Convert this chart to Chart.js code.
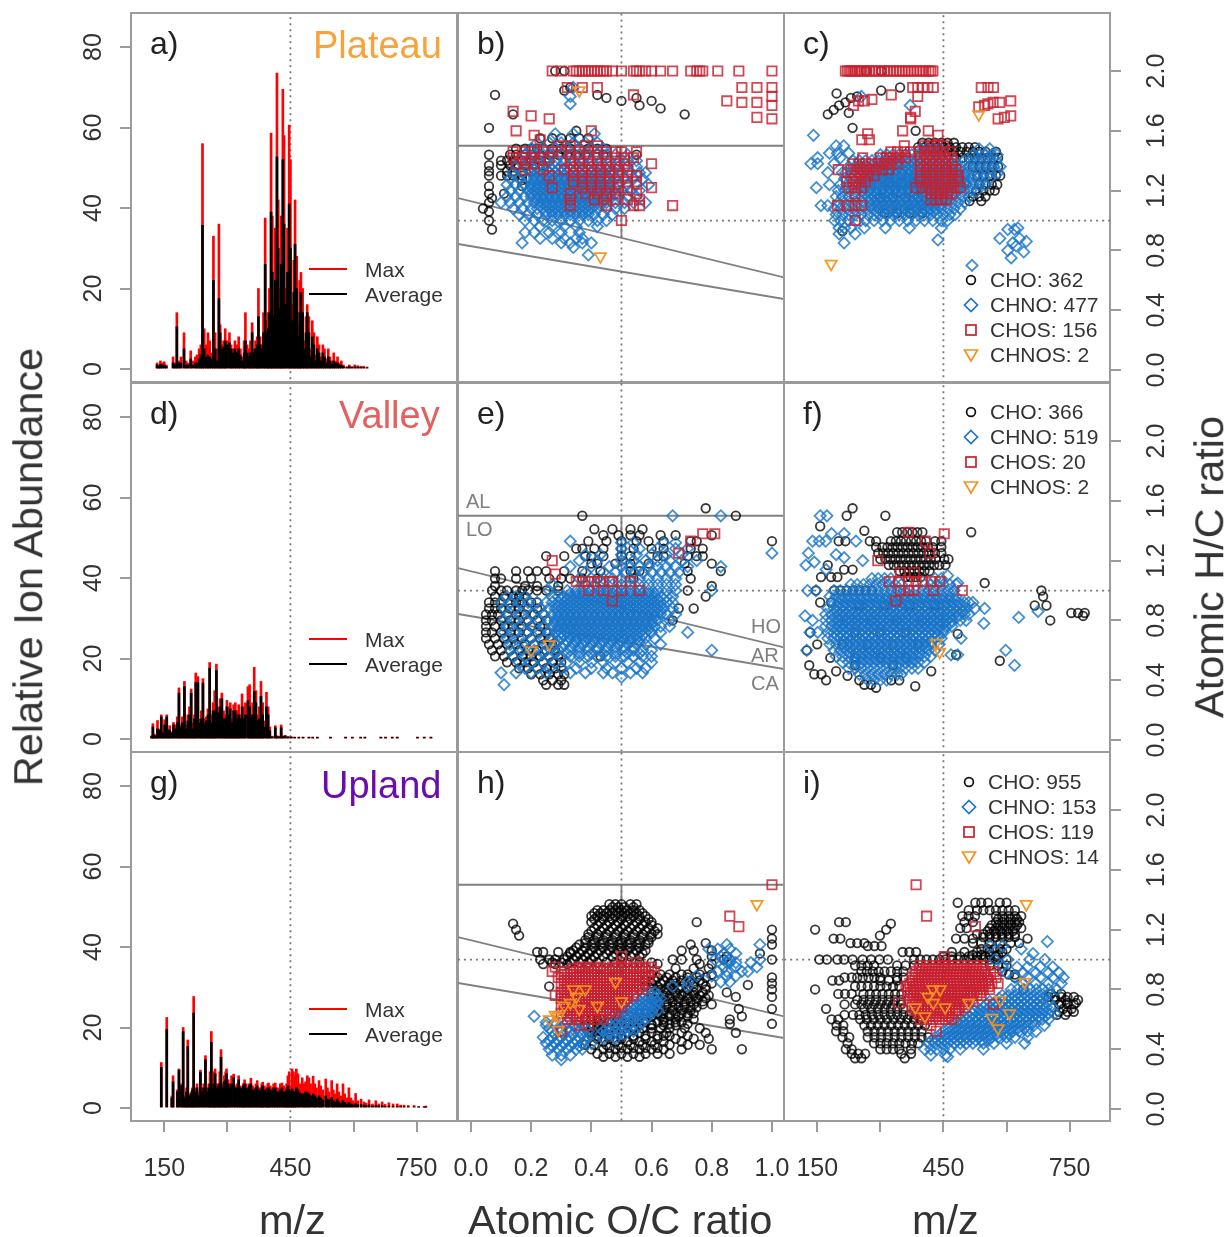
<!DOCTYPE html>
<html>
<head>
<meta charset="utf-8">
<title>Relative ion abundance and van Krevelen panels</title>
<script src="https://cdn.jsdelivr.net/npm/chart.js@4"></script>
<style>
  html, body { margin: 0; background: #fff; }
  #stage { position: relative; width: 1226px; height: 1237px; overflow: hidden; font-family: "Liberation Sans", Arial, sans-serif; color: #333; }
  #stage canvas { position: absolute; }
  .txt { position: absolute; white-space: nowrap; line-height: 1; }
  .tag { font-size: 32px; color: #222; }
  .site { font-size: 38px; text-align: right; }
  .title { font-size: 41.5px; }
  .leg { font-size: 21px; }
  .zone { font-size: 20px; color: #808080; }
  .swatch { position: absolute; width: 38px; height: 2px; }
  #stage svg { position: absolute; overflow: visible; }
</style>
</head>
<body>
<div id="stage"></div>
<script>
// ---------- Axis ticks ----------
const abundanceTicks = [0, 20, 40, 60, 80];
const mzTicks = [150, 300, 450, 600, 750];
const mzLabels = ["150", "", "450", "", "750"];
const ocTicks = [0, 0.2, 0.4, 0.6, 0.8, 1.0];
const hcTicks = [0, 0.4, 0.8, 1.2, 1.6, 2.0];

// ---------- Reference lines ----------
const mzGuide = [[450, -10], [450, 100]];
const ocGuide = [[0.5, -1], [0.5, 3]];
const ocSolid = [[0.5, 1.5], [0.5, 0.885]];
const hcGuide = [[-1, 1], [2, 1]];
const hcGuideMz = [[0, 1], [900, 1]];
const alLine = [[-1, 1.5], [2, 1.5]];
const hoLine = [[-0.043, 1.15], [1.04, 0.62]];
const arLine = [[-0.043, 0.843], [1.04, 0.475]];

// ---------- Mass spectra: [m/z, max, average] ----------
const plateauPeaks = [[133,1.5,1],[137,1,.7],[141,2,1.2],[145,1.5,1],[150,1.8,1],[155,1,.6],[171,3,1.5],[176,1.5,1],[180,14,10.5],[185,2,1.5],[190,3,1.5],[197,9,5],[202,2,1],[207,1.5,1],[213,4.5,2.5],[218,2,1],[224,3,1.5],[228,3.5,1.5],[233,5,2.5],[237,6,3.5],[241,56,35.7],[245,10,5],[250,6,3],[254,9,3.5],[258,7,3],[263,4,2.5],[267,33,22],[271,9,5],[275,5,2],[280,36,17.5],[283,11,9],[287,6,5],[291,7,5.5],[295,10,7],[299,7,6],[305,9,6.5],[309,6,5],[313,5,4],[318,7,5],[322,6,4],[327,8,5],[331,5,3.5],[336,3,2],[340,7,4],[343,14,7],[347,6,4],[352,5,3],[355,7,4],[359,11.5,9],[363,5,4],[367,7,5],[371,8,6],[374,20,13],[378,8,6],[382,6,5],[386,14,9],[390,37.5,26],[394,12,9],[397,14,10],[400,20,14],[404,58.6,39],[407,38,24],[411,17,13],[414,35,22],[418,73.5,52.7],[421,42,30],[425,20,15],[428,38,26],[432,69.5,52],[435,58,36],[439,20,16],[443,35,24],[447,60.6,41],[450,52,30],[454,16,12],[458,27,19],[461,42,31],[465,28,20],[469,11,8],[472,22,14],[475,24,19],[479,20,14],[483,7,5],[487,13,9],[490,16,14],[494,13,9],[498,5,3],[502,12,8],[506,9,6],[510,3.5,2],[514,8,5],[518,6,4],[522,3,2],[527,6,4],[531,5,3],[535,2.5,1.5],[540,5,3],[544,3,2],[548,2,1.2],[553,4,2],[557,2,1.5],[562,3,1.5],[566,1.5,1],[571,2,1],[576,1,.6],[584,.6,.4],[590,1,.6],[596,.6,.4],[603,1,.5],[610,.8,.5],[617,.7,.4],[624,.7,.4],[632,.5,.3]];
const valleyPeaks = [[120,.8,.6],[123,3.8,3],[126,1.2,1],[130,1,.7],[134,4.6,2.5],[138,2.5,2.2],[143,6,5.5],[147,1.8,1.5],[151,4.8,3.5],[156,6,5.5],[160,2.5,2],[163,3.3,2.2],[168,1.8,1.5],[172,4.1,3.5],[176,3.5,2.5],[181,5.5,4],[185,12.7,11.4],[189,3.5,2.8],[193,5.5,4],[198,14.3,13],[202,3.5,2.5],[206,6,4.5],[210,8,6],[214,12.4,11.4],[218,4,2.5],[222,6,5],[225,16.4,14],[230,15.5,14],[234,5,4],[238,7,5],[242,15,13.9],[246,5,4],[250,5.5,4.5],[254,7.5,6],[258,19,17.6],[262,6,4],[266,9,7],[270,12,7],[274,18.6,17],[278,8,6.5],[283,10,8],[287,11.4,10],[291,7,5],[295,6,5],[299,9.6,8],[303,8,6],[307,9,7.5],[311,5,4],[315,8.5,7],[319,9,7],[323,7,5],[327,8.5,6],[331,6,5],[335,11.2,8],[339,8,5],[343,9,6],[349,13,9.5],[353,13.5,8],[357,6,5],[360,9,6],[364,17.8,11.8],[368,12,9],[372,6,4.5],[376,8,5],[380,14.3,10.6],[384,9,6],[388,4.5,3],[393,11.6,8],[397,8,6],[401,3,2],[407,.7,.5],[414,3.3,2.8],[418,.8,.6],[423,.7,.5],[428,3.5,2.8],[432,.8,.6],[438,.9,.7],[445,.6,.5],[452,.5,.5],[460,.5,.4],[470,.5,.4],[480,.5,.4],[494,.5,.4],[503,.5,.4],[514,.5,.4],[545,.5,.4],[581,.5,.4],[597,.5,.4],[617,.5,.4],[627,.5,.4],[665,.5,.4],[676,.5,.4],[692,.5,.4],[704,.5,.4],[752,.5,.4],[768,.5,.4],[784,.5,.4]];
const uplandPeaks = [[143,11.3,10.1],[156,22.5,19.5],[168,3,2.5],[171,8,6.5],[181,4.5,4],[185,9.7,9.4],[191,6,5.5],[195,20,19],[199,3,2.5],[203,5,4],[206,16.9,15.3],[210,3.5,3],[214,4,3.5],[217,5,4.5],[220,27.7,23.6],[224,5,4],[228,6,5],[232,4,3],[236,9.4,8.8],[240,5,4],[244,6,5],[248,13,12],[252,5,4],[256,6,5],[259,9,6],[262,19,16.3],[266,6,5],[269,9,6],[271,9.7,8.5],[275,6,5],[279,6,5.5],[282,9,6],[285,14.5,12.6],[289,6,5],[293,8,6.5],[296,9,7],[298,9.7,8.5],[302,7,6],[306,6,5],[310,8,6],[315,8.4,7.5],[319,5.5,5],[323,6,5],[327,8,7],[331,5.5,5],[335,5,4.5],[338,6,5.5],[341,7,6],[345,6,5],[349,5,4.5],[352,6,5.5],[356,7.4,6],[360,5.5,4.5],[364,5,4.5],[368,6,5],[371,6.8,5.5],[375,5,4.5],[379,5,4],[382,6,5],[384,6.4,5.5],[388,5.5,4.5],[392,5,4],[396,6,5],[398,6.2,5],[402,5.5,4.5],[406,5,4],[410,6,5],[414,6.2,5],[418,5,4],[422,5,4],[426,6,4.5],[430,6.2,5],[434,5.5,4],[438,5,3.8],[441,6,4.5],[444,8,5.5],[447,9,4.5],[451,5.5,4],[454,9.7,4.7],[457,9,4],[460,8,4],[464,9.7,5],[468,8.5,4.5],[472,6,3.8],[478,7.5,3.5],[482,6,3.5],[486,6.5,4],[490,8,3.9],[494,7.5,3.5],[498,6,3],[504,7.9,3.5],[508,6,3],[512,5,2.5],[518,6.8,3],[522,5.5,2.5],[527,4.5,2],[534,7.2,3],[538,5,2.2],[542,4,2],[548,6.8,2.6],[552,4.5,1.8],[556,3.5,1.5],[561,6,2.2],[565,4,1.5],[570,3,1.2],[575,6,1.9],[579,3.5,1.4],[584,2.5,1],[589,5,1.4],[594,2.5,1],[599,1.8,.8],[605,3.6,1.1],[610,1.8,.8],[618,2.2,.9],[625,1.5,.7],[630,1.2,.6],[637,2,.8],[645,1,.5],[653,1.8,.7],[660,1,.5],[668,1.5,.6],[675,.9,.4],[684,1.3,.5],[694,1,.4],[704,1,.4],[712,.7,.3],[720,.7,.3],[730,.6,.3],[744,.6,.3],[755,.4,.2],[768,.4,.2],[772,.5,.2]];

// ---------- Panel b: rows of [H/C x100, O/C x100 ...] ----------
const bCho = [[200,28,31],[189,33],[187,31],[184,42,8],[182,45,55],[180,50,60],[177,56],[175,63],[171,71,14],[162,6],[160,35],[155,23,27,30,33,36,39],[148,15,18,20,22,24,27,30,33,36,39,42,45],[144,6,13,15,18,20,23,26,29,32,35,38,44,55],[140,10,12,14,17,20,23,26],[137,6,10,13,15,18,21,24],[133,6,12,14,17,20],[130,6,10,12,14,17],[127,17],[123,6,17],[118,6,11],[115,7],[112,6],[108,4],[106,6],[100,6],[94,7]];
const bChno = [[189,34],[183,33],[178,33],[158,28,34,41],[152,22,26,30,34,38,42],[148,20,24,28,32,36,40,44],[144,18,21,24,27,30,33,36,39,42,45,48,52],[140,16,19,22,25,28,31,34,37,40,43,46,49,52,55],[136,15,18,20,22,24,26,28,30,32,34,36,38,40,43,46,49,52,55],[132,14,17,20,22,24,26,28,30,32,34,36,38,40,42,44,47,50,53,56,58],[128,13,16,19,21,23,25,27,29,31,33,35,37,39,41,43,45,48,51,54,57],[124,12,15,18,20,22,24,26,28,30,32,34,36,38,40,42,44,46,49,52,55,59],[120,13,16,19,21,23,25,27,29,31,33,35,37,39,41,43,45,47,50,53,56],[116,12,15,18,20,22,24,26,28,30,32,34,36,38,40,42,44,46,49,52,55],[112,10,13,16,19,21,23,25,27,29,31,33,35,37,39,41,43,45,48,51,54,58],[108,14,17,20,22,24,26,28,30,32,34,36,38,40,42,45,48,51],[104,16,19,22,25,27,29,31,33,35,37,39,41,44,47],[100,18,21,24,27,30,33,36,39,42,45],[96,23,27,31,35,42],[92,18,21,26,30,36],[88,23,27,31,35,37],[85,17,30,33,37,40],[82,34],[77,39],
  [134,21,23,25,27,29,31,33,35,37,39,41,43,45,47],[130,21,23,25,27,29,31,33,35,37,39,41,43,45,47],[126,21,23,25,27,29,31,33,35,37,39,41,43,45,47],[122,20,22,24,26,28,30,32,34,36,38,40,42,44,46,48],[118,20,22,24,26,28,30,32,34,36,38,40,42,44,46,48],[114,22,24,26,28,30,32,34,36,38,40,42,44,46],[110,23,25,27,29,31,33,35,37,39,41,43],[106,25,27,29,31,33,35,37,39]];
const bChos = [[200,27,30,34,35,36,37,38,39,40,41,42,43,44,45,47,50,54,55,56,58,60,63,67,73,75,76,77,82,89,100],[189,32,37,42,90,95,100],[184,54],[183,100],[180,85],[179,90,95],[177,100],[173,14],[170,20],[169,95],[168,26,100],[160,15,40],[157,21],[154,23],[150,29,33,38,42],[146,14,18,21,24,27,30,33,36,39,42,45,48,50,55],[142,14,17,20,23,26,33,36,39,42,45,48,51,54],[138,15,18,21,33,36,39,42,45,48,51,60],[134,18,24,31,34,37,40,43,46,49,52],[130,26,34,37,40,43,46,49,52,55],[126,34,37,40,43,46,49,52,55],[122,27,37,40,43,46,49,52,60],[118,33,38,42,45,48,55],[114,33,41,44,48,52,56],[110,33,45,54,56,67],[100,50]];
const bChnos = [[187,36],[76,43]];

// ---------- Panel c: rows of [H/C x100, m/z ...] ----------
const cCho = [[200,266,302],[189,347],[187,302],[185,196],[183,245],[182,230],[179,217],[177,202],[174,189],[172,225],[171,175],[162,234],[160,384],[152,400,415,430,445,460,475],[149,390,405,420,435,450,465,480,495,510,525],[146,430,445,460,475,490,505,520,535,550,575],[142,480,495,510,525,540,555,570,580],[136,520,535,550,565,580],[130,530,545,560,575,585],[124,535,550,565,578],[120,528,545,560,572],[116,520,535,550],[113,512,540],[125,320,350,380,410,440,470,500],[115,300,330,360,390,420,450],[105,310,340,370,400],[93,210]];
const cChno = [[183,255],[177,371],[157,141],[150,195,213],[148,395,410,425,440,535,560],[145,179,198,225],[144,300,315,330,345,360,375,390,405,420,435,450,520,535,550,565,578],[142,151,205],[140,235,250,265,280,295,310,325,340,355,370,385,400,415,430,445,460,475,500,515,530,545,560,575],[138,135,151,190],[136,225,240,255,270,285,300,315,330,345,360,375,390,405,420,435,450,465,480,495,510,525,540,555,570,585],[132,175,210,218,232,247,262,277,292,307,322,337,352,367,382,397,412,427,442,457,472,487,502,517,532,547,562,580],[128,215,230,245,260,275,290,305,320,335,350,365,380,395,410,425,440,455,470,485,500,515,530,545,560],[124,179,205,220,235,250,265,280,295,310,325,340,355,370,385,400,415,430,445,460,475,490,505,520,535,550],[122,148],[120,200,215,230,245,260,275,290,305,320,335,350,365,380,395,410,425,440,455,470,485,500,515,530],[116,195,210,225,240,255,270,285,300,315,330,345,360,375,390,405,420,435,450,465,480,495,510],[112,200,215,230,245,260,275,290,305,320,335,350,365,380,395,410,425,440,455,470,485,500],[110,159,175],[108,190,205,220,235,250,265,280,295,310,325,340,355,370,385,400,415,430,445,460,475,490],[104,195,210,225,240,255,270,285,300,315,330,345,360,375,390,405,420,435,450,465,478],[100,191,205,225,245,265,285,305,325,345,365,385,405,425,445,460],[95,202,215,230,262,312,369,445,627],[94,619,603],[91,202,240],[88,584,631],[87,437],[86,647],[85,615,214],[83,623],[80,603],[79,641],[75,611],[70,518],
  [138,307,322,337,352,367,382,397,412,427,442,457,472],[134,292,307,322,337,352,367,382,397,412,427,442,457,472,487],[130,277,292,307,322,337,352,367,382,397,412,427,442,457,472,487,502],[126,262,277,292,307,322,337,352,367,382,397,412,427,442,457,472,487,502],[122,262,277,292,307,322,337,352,367,382,397,412,427,442,457,472,487],[118,262,277,292,307,322,337,352,367,382,397,412,427,442,457,472],[114,277,292,307,322,337,352,367,382,397,412,427,442,457],[110,277,292,307,322,337,352,367,382,397,412,427,442],[106,292,307,322,337,352,367,382,397,412,427]];
const cChos = [[200,217,222,227,231,235,240,245,250,255,262,268,275,282,289,296,303,310,317,324,331,338,345,352,359,366,373,380,387,394,401,408,415,420,425],[189,377,389,401,413,426,569,556,540],[184,326],[183,389],[181,280],[180,248,262,610],[179,584,568],[178,556],[177,236,548],[176,534],[173,383],[170,610],[169,372,595],[168,580,372],[160,353,414],[158,270],[157,437],[154,256,274],[150,357,405,420,435,450],[146,325,341,357,372,392,405,420,435,450,465],[142,258,300,315,330,345,360,395,410,425,440,455,470],[138,235,250,265,280,295,310,325,340,395,410,425,440,455,470],[134,200,230,245,260,275,290,305,320,395,410,425,440,455,470,480],[130,240,255,270,285,395,410,425,440,455,470,485],[126,220,235,250,265,395,410,425,440,455,470,485],[122,225,240,255,385,400,415,430,445,460,475,490],[118,240,420,432,445,460,470],[114,420,432,445,458],[110,198,225,240,255],[100,240]];
const cChnos = [[171,534],[71,183]];

// ---------- Panel e ----------
const eCho = [[155,78],[150,37,88],[141,41,47,53,57],[137,44,49,53,56,63,68,80],[133,39,45,50,55,59,64,73,75,100],[128,35,37,41,44,50,54,60,64,73,77],[123,25,31,38,40,44,50,53,62,64,72,75,77],[118,40,42,48,53,59,71,80],[113,8,15,19,22,25,31,37,43,53,56,72,83],[108,8,10,15,20,26,30,33,37,42,54,73],[103,8,18,22,29,80],[100,7,10,12,15,17,19,22,25,29,72],[96,8,11,14,16,18,78],[92,6,8,10,13,15,17,20,22],[88,6,8,10,13,16,19,22,69,74],[84,5,7,9,12,15,18,21,24],[80,5,7,10,13,16,19,22,25,67],[76,5,8,11,14,17,20,23],[72,5,7,10,13,16,19,22,25],[68,5,8,11,14,17,20,23,26],[64,6,9,12,15,18,21,24,27],[60,7,10,13,16,19,22,25,28],[56,8,11,14,17,20,23,26,29,43],[52,12,15,18,21,24,27,30],[48,16,19,22,25,28,30],[44,20,23,26,29,31],[40,24,27,30],[37,25,29,31]];
const eChno = [[150,67,83],[133,33],[132,50,54,64,68],[128,50,56,62,68,72],[125,100],[124,38,43,50,55,60,65,70],[120,36,42,50,54,58,62,66,70,75],[116,33,40,46,50,53,56,59,62,65,68,72,83],[112,38,44,48,51,54,57,60,63,66,69],[108,36,40,44,47,50,53,56,59,62,65,68],[104,27,38,41,44,47,50,53,56,59,62,65,68],[100,26,32,35,37,40,43,45,48,50,53,56,59,62,65,68,80],[96,12,15,18,27,29,31,33,35,37,39,41,43,45,47,49,51,53,55,57,59,61,63,65,67],[92,10,13,16,19,22,25,27,29,31,33,35,37,39,41,43,45,47,49,51,53,55,57,59,61,63,65,67],[88,11,15,19,23,26,28,30,32,34,36,38,40,42,44,46,48,50,52,54,56,58,60,62,64,67],[84,12,16,20,24,27,29,31,33,35,37,39,41,43,45,47,49,51,53,55,57,59,61,63,65,68],[80,11,15,19,23,26,28,30,32,34,36,38,40,42,44,46,48,50,52,54,56,58,60,62,66],[76,12,16,20,24,27,29,31,33,35,37,39,41,43,45,47,49,51,53,55,57,59,61,63,66],[72,11,15,19,23,26,28,30,32,34,36,38,40,42,44,46,48,50,52,54,56,58,60,63,72],[68,12,16,20,24,27,30,33,35,37,39,41,43,45,47,49,51,53,55,58,61],[64,13,17,21,25,28,31,34,37,40,43,46,49,52,55,58,63],[60,13,17,21,25,29,33,36,39,42,45,48,51,54,57,60,80],[56,14,18,22,26,30,33,36,39,42,45,48,51,54,57,60],[52,16,20,24,28,32,36,40,44,48,52,56,60],[48,18,22,26,30,35,40,45,50,55,58],[45,10,15,20,25,33,38,44,47,53,57],[42,50],[37,11],
  [98,33,35,37,39,41,43,45,47,49,51,53,55,57,59,61],[94,30,32,34,36,38,40,42,44,46,48,50,52,54,56,58,60,62],[90,29,31,33,35,37,39,41,43,45,47,49,51,53,55,57,59,61,63],[86,29,31,33,35,37,39,41,43,45,47,49,51,53,55,57,59,61,63],[82,29,31,33,35,37,39,41,43,45,47,49,51,53,55,57,59,61],[78,28,30,32,34,36,38,40,42,44,46,48,50,52,54,56,58,60],[74,29,31,33,35,37,39,41,43,45,47,49,51,53,55,57,59],[70,29,31,33,35,37,39,41,43,45,47,49,51,53,55,57],[66,29,32,35,38,41,44,47,50,53,56],[62,27,30,33,36,39,42,45,48,51,54],[58,24,28,32,36,40,44,48,52,56]];
const eChos = [[138,77,81],[133,73],[125,69],[120,27],[111,28],[106,35,37,39,41,43,46,47,53],[100,39,44,50,56],[93,47]];
const eChnos = [[64,26],[60,20]];

// ---------- Panel f ----------
const fCho = [[155,234],[150,220,312],[143,157],[140,262],[139,340,352,364,376,388,400,516],[133,201,217,275,290,325,337,349,361,373,385,397,409,430,445],[129,290,305,317,329,341,353,365,377,389,401,413,425,445],[125,295,307,319,331,343,355,367,379,391,403,415,430,445],[121,300,312,324,336,348,360,372,384,396,408,420,432,452,462],[117,175,320,332,344,356,368,380,392,404,416,428,440,455],[114,214,234],[113,345,357,369,381,393,405,417],[109,159,183,198,360,372,384,396],[105,548],[100,147,190,205,220,235,250,265,280,683],[96,687],[92,157,183],[90,695,667,250,310,370,430],[85,754,770,786],[83,782],[80,704,220,280,340,400],[72,133,240,300,360],[71,484],[64,150,210,270,330,390],[60,125],[57,480],[55,181,240,300,360],[53,584],[50,131,240,330],[46,195,421],[44,143,160],[43,222],[40,171,250,326,345],[37,262,278],[36,383],[35,290]];
const fChno = [[150,157,173],[138,184,214],[133,139,155,170,242],[125,129],[124,195],[122,214],[120,258],[119,143],[117,123],[114,171],[110,460],[108,280,295,310,325,430,445],[105,484],[104,230,245,260,275,290,305,320,335,350,405,420,435,450,465,480],[100,127,147,190,205,220,235,250,265,280,295,310,325,340,355,370,385,400,415,430,445,460,475],[96,180,195,210,225,240,255,270,285,300,315,330,345,360,375,390,405,420,435,450,465,480],[92,185,200,215,230,245,260,275,290,305,320,335,350,365,380,395,410,425,440,455,470,485,500,510,520],[88,175,190,205,220,235,250,265,280,295,310,325,340,355,370,385,400,415,430,445,460,475,490,505,525,548],[86,675],[84,170,185,200,215,230,245,260,275,290,305,320,335,350,365,380,395,410,425,440,455,470,485,500,510],[83,121],[82,629],[80,139,170,185,200,215,230,245,260,275,290,305,320,335,350,365,380,395,410,425,440,455,470,490,504],[78,546],[76,170,185,200,215,230,245,260,275,290,305,320,335,350,365,380,395,410,425,440,455,470],[72,133,151,175,190,205,220,235,250,265,280,295,310,325,340,355,370,385,400,415,430,450],[68,175,190,205,220,235,250,265,280,295,310,325,340,355,370,385,400,415,430,445,492],[64,180,195,210,225,240,255,270,285,300,315,330,345,360,375,390,405,420,440],[60,125,190,205,220,235,250,265,280,295,310,325,340,355,370,385,400,415,430,598],[57,468,484],[56,195,210,225,240,255,270,285,300,315,330,345,360,375,390,405,420],[52,210,225,240,255,270,285,300,315,330,345,360,375,390,405],[50,619],[48,225,240,255,270,285,300,315,330,345,360,375,390],[44,250,265,280,295,310,325,340,350],[40,270,285,300,315],
  [94,207,222,237,252,267,282,297,312,327,342,357,372,387,402,417,432,447,462,477],[90,197,212,227,242,257,272,287,302,317,332,347,362,377,392,407,422,437,452,467,482,497],[86,197,212,227,242,257,272,287,302,317,332,347,362,377,392,407,422,437,452,467,482,497],[82,197,212,227,242,257,272,287,302,317,332,347,362,377,392,407,422,437,452,467,482],[78,197,212,227,242,257,272,287,302,317,332,347,362,377,392,407,422,437,452,467],[74,197,212,227,242,257,272,287,302,317,332,347,362,377,392,407,422,437,452],[70,197,212,227,242,257,272,287,302,317,332,347,362,377,392,407,422,437],[66,212,227,242,257,272,287,302,317,332,347,362,377,392,407,422],[62,212,227,242,257,272,287,302,317,332,347,362,377,392,407],[58,227,242,257,272,287,302,317,332,347,362,377,392],[54,242,257,272,287,302,317,332,347,362,377]];
const fChos = [[139,367],[138,452],[133,407],[125,418],[120,294],[112,348,381],[106,321,345,367,385,401,421,441],[100,348,367,380,426,495],[93,337]];
const fChnos = [[65,433],[59,441]];

// ---------- Panel h ----------
const hCho = [[137,46,48,50,53,55],[133,42,44,46,48,50,52,54,56],[129,40,42,44,46,48,50,52,54,56,58],[125,40,43,46,49,52,55,58,60,75],[124,14],[121,41,44,47,50,53,56,59,62],[120,15,100],[117,39,42,45,48,51,54,57,60,62],[116,16],[114,100],[113,38,41,44,47,50,53,56,59],[111,78],[110,36,40,43,46,49,52,55,58,73,100],[106,34,37,40,43,46,49,52,55,58,70,74,80],[105,22,24,29,33],[104,96],[102,32,35,38,41,44,47,50,53,56,80,85],[100,23,26,28,31,34,37,40,67,70,75,84,100],[97,24,28,32,62,76,80],[94,68,74,79],[90,60,63,66,70,72,76,80],[88,100],[86,58,61,64,67,70,73,76],[84,100],[83,92],[82,26,58,62,66,70,74,78],[80,100],[78,62,65,68,71,74,77,85],[75,100,88],[74,60,63,66,69,72,75,78],[70,62,65,68,71,74,77,80],[67,100,89],[66,58,61,64,67,70,73],[62,60,63,66,69,72,90],[60,40,43,46,49,52,55,58,64,68,74,86],[57,100,86,60,66,72],[54,42,45,48,51,54,57,60,63,66,71,76],[51,88,40,44,48,52,56,60,65,70,78],[47,42,46,50,54,58,62,68,74,79],[43,38,41,45,49,53,57,61,66,72,76],[40,40,44,48,52,56,60,64,70,80,90],[37,42,46,50,54,58,62,66],[35,44,48,52,56],
  [135,47,49,51,54],[131,41,43,45,47,49,51,53,55,57],[127,41,44,47,50,53,56,59],[123,42,45,48,51,54,57,60],[119,40,43,46,49,52,55,58,61],[115,39,42,45,48,51,54,57,60],[111,38,41,44,47,50,53,56,59],[108,35,38,41,44,47,50,53,56],[104,33,36,39,42,45,48,51,54,57],[98,27,30,33,36,39,42,45,48,52,56,60],[88,62,65,68,72,75,78],[84,60,63,66,68,71,74,77,80],[80,60,63,65,67,69,72,75,78],[76,60,62,64,66,68,70,72,74,76,79],[72,61,63,65,67,69,71,73,75,77],[68,63,65,67,69,71,73,75],[64,56,58,60,62,64,66,68,70,72,74],[60,38,40,42],[58,42,46,50,54,58,62,64,68,70],[56,38,40,42,44,48,52,56,60,64,68],[52,39,41,43],[49,40,42,46,50,54,58,62,64,66,72],[45,44,48,52,56,60,64,70],[41,46,50,54,58,62]];
const hChno = [[110,85,96],[107,79,82,86],[104,84,88],[102,83],[100,81,86,96],[98,86,85,88,93],[95,84,88,95],[92,82,85,90,92],[89,75,80,85,88],[85,72,83,86],[82,67,72],[78,57,59,61],[74,55,57,59,61,63],[70,52,54,56,58,60,62],[66,50,52,54,56,58,60,62],[62,21,47,49,51,53,55,57,59],[58,45,47,49,51,53,55,57,25,28,32,36],[56,25,28,31,34,37],[54,43,45,47,49,51,53,55],[52,27,30,33,36,39],[50,43,45,47,49,51],[48,24,27,30,33,36,39],[47,44,48],[44,25,28,31,34,37,40],[40,26,29,32,35,37],[36,27,30,33],[33,30],
  [76,58,60,62],[72,56,58,60,62],[68,53,55,57,59,61],[64,50,52,54,56,58,60],[60,48,50,52,54,56,58],[56,46,48,50,52,54,56],[52,44,46,48,50,52,54],[54,26,29,32,35,38],[50,28,31,34,37],[46,26,29,32,35,38],[42,27,30,33,36]];
const hChos = [[150,100],[129,86],[122,89],[102,50],[98,50,55],[95,28,36,39,43,47,50,54,57,60],[92,27,31,33,35,37,39,41,43,45,47,49,51,53,55,57,59,61],[88,29,31,33,35,37,39,41,43,45,47,49,51,53,55,57,59],[84,30,32,34,36,38,40,42,44,46,48,50,52,54,56,58],[80,31,33,35,37,39,41,43,45,47,49,51,53,55,57],[76,28,30,32,34,36,38,40,42,44,46,48,50,52,54],[72,31,33,35,37,39,41,43,45,47,49,51],[68,30,32,34,36,38,40,42,44,46,48,50],[64,30,32,34,36,38,40,43,46,48],[60,32,35,38,41,44],[56,36,39],[52,30],
  [94,34,36,38,40,42,44,46,48,50,52,54,56,58],[90,30,32,34,36,38,40,42,44,46,48,50,52,54,56,58],[86,31,33,35,37,39,41,43,45,47,49,51,53,55,57],[82,32,34,36,38,40,42,44,46,48,50,52,54,56],[78,30,32,34,36,38,40,42,44,46,48,50,52,54],[74,30,32,34,36,38,40,42,44,46,48,50,52],[70,31,33,35,37,39,41,43,45,47,49],[66,31,33,35,37,39,41,43,45,47],[62,33,35,37,39,41,43]];
const hChnos = [[137,95],[85,48],[80,34,38],[75,35],[72,50],[71,33],[69,31,42],[67,36],[63,28],[62,29],[60,26],[53,29]];

// ---------- Panel i ----------
const iCho = [[138,484,526,540,556,584,600],[133,510,530,545,560,575,590,605,620],[129,495,510,525,575,590,605,620,635],[125,202,218,500,520,575,590,605,620,630],[124,325],[121,490,505,560,575,590,605,620,635],[120,145,314],[117,530,545,560,575,590,605,620],[116,299],[114,189,205,480,500,520,650],[111,229,245,262,520,540,560,585,610,630],[109,270,286,303],[105,353,369,385,470,500,530,560,590],[102,450,470,490,510,530,550,575],[100,155,173,198,214,234,258,278,298,318,380,395,410,425,440,455,470,485,500,515,530,545,560,575,600],[96,240,255,270,285,340,360,380,560,580,600],[92,255,268,282,296,310,325,340,355,590],[90,606,620],[88,215,232,245,258,272,286,300,340,355,620],[86,186,202,300,320,340],[82,240,255,270,285,300,315,330,345],[80,145,640],[77,200,216,232,260,275,290,305,320,335,350,706,730],[73,245,260,275,290,305,320,335,350,715,740,770],[70,215,240,255,270,285,300,315,330,350,725,745,760],[67,171,262,278,294,310,325,340,355,735,755],[63,215,235,250,265,280,295,310,325,340,355,370,385,720,740],[60,184,200,252,268,284,300,316,332,348,364,380,396],[56,196,212,262,278,294,310,326,342,358,374,390,406],[52,195,212,270,286,302,318,334,350,366,382,398],[48,210,226,270,286,302,318,334,350,366,382,398,414],[44,222,285,300,315,330,345,360,375,390],[40,218,232,300,315,330,345,373],[37,232,248,264,350,373],[34,240,255,358],
  [127,580,595,610,625],[123,565,580,595,610,625],[119,555,570,585,600,615],[115,545,560,575,590,605,620],[107,540,555,570,585,600],[103,520,540,560,580],[75,700,715,730,745,760],[71,730,745,765],[65,725,745,760]];
const iChno = [[112,697],[109,561,591],[107,635],[104,663],[100,572,603,655,691],[95,590,625,650,680,710],[91,600,640,670,700,725],[88,620,650,680,710,735],[84,640,670,700,730],[80,611,626,641,656,671,686,700,720],[76,590,605,620,635,650,665,680,695],[72,560,575,590,605,620,635,650,665,680,700],[68,530,545,560,575,590,605,620,635,650,665,680,695,710],[64,505,520,535,550,565,580,595,610,625,640,655,670,685,700,715],[60,490,505,520,535,550,565,580,595,610,625,640,655,670,685,700],[56,470,485,500,515,530,545,560,575,590,605,620,635,650,665,690],[52,450,465,480,495,510,525,540,555,570,585,600,615,630,650,670],[48,430,445,460,475,490,505,520,535,550,565,580,600,620,650],[44,415,430,445,460,475,490,505,520,545,570,600,643],[40,405,420,435,450,465,490,545],[36,420,455],[35,460],
  [74,582,597,612,627,642,657,672,687],[70,552,567,582,597,612,627,642,657,672,687],[66,522,537,552,567,582,597,612,627,642,657,672,687],[62,497,512,527,542,557,572,587,602,617,632,647,662,677,692],[58,482,497,512,527,542,557,572,587,602,617,632,647,662],[54,462,477,492,507,522,537,552,567,582,597,612,627,642],[50,442,457,472,487,502,517,532,547,562,577,592,607],[46,422,437,452,467,482,497,512,527,542,557]];
const iChos = [[150,385],[129,410],[122,526],[102,452],[98,452],[96,395,410,425,440,455,470,485,500,515,530,545],[92,385,400,415,430,445,460,475,490,505,520,535,550,570],[88,375,390,405,420,435,450,465,480,495,510,525,540,555,575],[84,370,385,400,415,430,445,460,475,490,505,520,535,550,565,580],[82,361],[80,365,380,395,410,425,440,455,470,485,500,515,530,545,560],[76,365,380,395,410,425,440,455,470,485,500,515,530,540],[72,370,385,400,415,430,445,460,475,490,505,520],[71,344],[70,569],[68,375,390,405,420,435,450,465,480,500],[64,390,405,420,435,450,465,480],[60,395,410,425,440,455,470],[56,420],[52,433],
  [94,392,407,422,437,452,467,482,497,512,527,542],[90,382,397,412,427,442,457,472,487,502,517,532,547,562],[86,377,392,407,422,437,452,467,482,497,512,527,542,557],[82,377,392,407,422,437,452,467,482,497,512,527,542,557],[78,372,387,402,417,432,447,462,477,492,507,522,537],[74,377,392,407,422,437,452,467,482,497,512],[70,382,397,412,427,442,457,472,487,502],[66,382,397,412,427,442,457,472,487],[62,402,417,432,447,462]];
const iChnos = [[137,647],[85,643],[80,425,442],[75,413],[73,585],[71,426,510],[68,383,454],[64,607],[62,406],[61,565],[54,580]];

// ---------- Drawing helpers ----------
const FRAME = "#9b9b9b";
const TICK_FONT = { family: "Liberation Sans", size: 25 };
const PAD = 24;
const colX = [131, 457.5, 784];
const colW = [326.5, 326.5, 326];
const rowY = [13, 382.5, 752];
const rowH = [369.5, 369.5, 369];

function rowsToPoints(rows, xDiv) {
    return rows.flatMap(r => r.slice(1).map(v => ({ x: v / xDiv, y: r[0] / 100 })));
}

function guide(points, dashed) {
    return {
        type: "scatter", showLine: true, pointRadius: 0,
        data: points.map(p => ({ x: p[0], y: p[1] })),
        borderColor: dashed ? "#777" : "#808080",
        borderWidth: dashed ? 1.8 : 1.8,
        borderDash: dashed ? [2, 4] : []
    };
}

function markers(points, style, color, radius, rotation) {
    return {
        type: "scatter", showLine: false, data: points,
        pointStyle: style, pointRadius: radius, pointRotation: rotation || 0,
        pointBorderColor: color, pointBackgroundColor: "transparent", pointBorderWidth: 1.8,
        borderColor: color, backgroundColor: "transparent"
    };
}

// first dataset in the list is painted last, so top layer goes first
function scatterSets(cho, chno, chos, chnos, xDiv) {
    return [
        markers(rowsToPoints(chnos, xDiv), "triangle", "rgba(245,146,30,.95)", 6.5, 180),
        markers(rowsToPoints(chos, xDiv), "rect", "rgba(200,32,46,.82)", 6.6),
        markers(rowsToPoints(chno, xDiv), "rectRot", "rgba(27,117,200,.82)", 5.6),
        markers(rowsToPoints(cho, xDiv), "circle", "rgba(0,0,0,.78)", 4.3)
    ];
}

function spectrumSets(peaks) {
    const bars = (idx, color) => ({
        type: "bar", data: peaks.map(p => ({ x: p[0], y: p[idx] })),
        backgroundColor: color, barThickness: 2, grouped: false
    });
    return [bars(2, "#000"), bars(1, "#f00")];
}

const framePlugin = {
    id: "frame",
    beforeDraw(chart) {
        const a = chart.chartArea, c = chart.ctx;
        c.save();
        c.strokeStyle = FRAME;
        c.lineWidth = 2;
        c.strokeRect(a.left, a.top, a.width, a.height);
        c.restore();
    }
};

function axisOptions(show, id, min, max, tickValues, label, size, padding, position) {
    return {
        type: "linear", display: show, position: position, min: min, max: max, offset: false,
        border: { display: false },
        grid: { drawOnChartArea: false, drawTicks: true, tickLength: 11, color: FRAME, lineWidth: 2, offset: false },
        afterBuildTicks: s => { s.ticks = tickValues.map(v => ({ value: v })); },
        afterFit: s => {
            if (id === "x") s.height = size; else s.width = size;
            // labels may hang past the plot area, they must not shrink it
            s.paddingTop = s.paddingBottom = s.paddingLeft = s.paddingRight = 0;
        },
        ticks: {
            font: TICK_FONT, color: "#333", padding: padding, autoSkip: false,
            minRotation: id === "y" ? 90 : 0, maxRotation: id === "y" ? 90 : 0,
            crossAlign: id === "y" ? "center" : "near",
            callback: label
        }
    };
}

function panel(col, row, kind, datasets) {
    const isSpec = kind === "spec", isOc = kind === "oc";
    const left = col === 0 ? 60 : 0, right = col === 2 ? 60 : 0, bottom = row === 2 ? 70 : 0;
    const canvas = document.createElement("canvas");
    const w = colW[col] + left + right + 2 * PAD, h = rowH[row] + bottom + 2 * PAD;
    canvas.width = w; canvas.height = h;
    canvas.style.left = (colX[col] - left - PAD) + "px";
    canvas.style.top = (rowY[row] - PAD) + "px";
    document.getElementById("stage").appendChild(canvas);

    const xRange = isOc ? [-0.043, 1.04] : [71, 846];
    const xTicks = isOc ? ocTicks : mzTicks;
    const xLabel = isOc ? v => v.toFixed(1) : v => mzLabels[mzTicks.indexOf(v)];
    const yScale = isSpec
        ? axisOptions(col === 0, "y", -3.23, 88.45, abundanceTicks, v => String(v), left, 12, "left")
        : axisOptions(col === 2, "y", -0.08, 2.388, hcTicks, v => v.toFixed(1), right, 19, "right");

    return new Chart(canvas, {
        type: isSpec ? "bar" : "scatter",
        data: { datasets: datasets },
        options: {
            responsive: false, animation: false, devicePixelRatio: 1,
            layout: { padding: PAD },
            plugins: { legend: { display: false }, tooltip: { enabled: false }, title: { display: false } },
            scales: {
                x: axisOptions(row === 2, "x", xRange[0], xRange[1], xTicks, xLabel, bottom, 22, "bottom"),
                y: yScale
            }
        },
        plugins: [framePlugin]
    });
}

// ---------- Page text ----------
function text(cls, str, x, y, extra) {
    const el = document.createElement("div");
    el.className = "txt " + cls;
    el.textContent = str;
    el.style.left = x + "px";
    el.style.top = y + "px";
    if (extra) Object.assign(el.style, extra);
    document.getElementById("stage").appendChild(el);
}

function swatch(x, y, color) {
    const el = document.createElement("div");
    el.className = "swatch";
    el.style.left = x + "px";
    el.style.top = y + "px";
    el.style.background = color;
    document.getElementById("stage").appendChild(el);
}

const legendShapes = {
    CHO: '<circle cx="8" cy="8" r="4.4" fill="none" stroke="#111" stroke-width="1.7"/>',
    CHNO: '<path d="M8 1.5 L14.5 8 L8 14.5 L1.5 8 Z" fill="none" stroke="#1b75c8" stroke-width="1.7"/>',
    CHOS: '<rect x="3" y="3" width="10" height="10" fill="none" stroke="#c8202e" stroke-width="1.7"/>',
    CHNOS: '<path d="M1.5 3 L14.5 3 L8 14 Z" fill="none" stroke="#f5921e" stroke-width="1.7"/>'
};

function compoundLegend(x, y, textX, names, counts) {
    names.forEach((name, i) => {
        const top = y + i * 25;
        const svg = document.createElementNS("http://www.w3.org/2000/svg", "svg");
        svg.setAttribute("width", 16);
        svg.setAttribute("height", 16);
        svg.style.left = (x - 8) + "px";
        svg.style.top = (top - 8) + "px";
        svg.innerHTML = legendShapes[name];
        document.getElementById("stage").appendChild(svg);
        text("leg", name + ": " + counts[i], textX, top - 11.5);
    });
}

const compoundNames = ["CHO", "CHNO", "CHOS", "CHNOS"];
const plateauCounts = [362, 477, 156, 2];
const valleyCounts = [366, 519, 20, 2];
const uplandCounts = [955, 153, 119, 14];

// ---------- Build the nine panels ----------
const ocLines = [guide(hcGuide, true), guide(ocGuide, true), guide(alLine), guide(ocSolid), guide(hoLine), guide(arLine)];
const mzLines = [guide(hcGuideMz, true), guide(mzGuide, true)];

panel(0, 0, "spec", [...spectrumSets(plateauPeaks), guide(mzGuide, true)]);
panel(0, 1, "spec", [...spectrumSets(valleyPeaks), guide(mzGuide, true)]);
panel(0, 2, "spec", [...spectrumSets(uplandPeaks), guide(mzGuide, true)]);
panel(1, 0, "oc", [...scatterSets(bCho, bChno, bChos, bChnos, 100), ...ocLines]);
panel(1, 1, "oc", [...scatterSets(eCho, eChno, eChos, eChnos, 100), ...ocLines]);
panel(1, 2, "oc", [...scatterSets(hCho, hChno, hChos, hChnos, 100), ...ocLines]);
panel(2, 0, "mz", [...scatterSets(cCho, cChno, cChos, cChnos, 1), ...mzLines]);
panel(2, 1, "mz", [...scatterSets(fCho, fChno, fChos, fChnos, 1), ...mzLines]);
panel(2, 2, "mz", [...scatterSets(iCho, iChno, iChos, iChnos, 1), ...mzLines]);

const tags = ["a)", "b)", "c)", "d)", "e)", "f)", "g)", "h)", "i)"];
tags.forEach((t, i) => {
    text("tag", t, [150, 477, 803][i % 3], [27, 397, 766][Math.floor(i / 3)]);
});
text("site", "Plateau", 313, 26, { color: "#f9a23c" });
text("site", "Valley", 339, 396, { color: "#e2605f" });
text("site", "Upland", 321, 766, { color: "#6a0dad" });

[[258, 283], [628, 653], [998, 1023]].forEach(ys => {
    swatch(309, ys[0] + 10, "#f00");
    swatch(309, ys[1] + 10, "#000");
    text("leg", "Max", 365, ys[0] + 0.5);
    text("leg", "Average", 365, ys[1] + 0.5);
});
compoundLegend(971, 280, 990, compoundNames, plateauCounts);
compoundLegend(971, 412, 990, compoundNames, valleyCounts);
compoundLegend(969, 782, 988, compoundNames, uplandCounts);

text("zone", "AL", 466, 491);
text("zone", "LO", 466, 519);
text("zone", "HO", 751, 616);
text("zone", "AR", 751, 645);
text("zone", "CA", 751, 673);

text("title", "m/z", 259, 1199);
text("title", "Atomic O/C ratio", 468, 1199);
text("title", "m/z", 912, 1199);
text("title", "Relative Ion Abundance", 28, 567, { transform: "translate(-50%,-50%) rotate(-90deg)" });
text("title", "Atomic H/C ratio", 1209, 567, { transform: "translate(-50%,-50%) rotate(-90deg)" });
</script>
</body>
</html>
